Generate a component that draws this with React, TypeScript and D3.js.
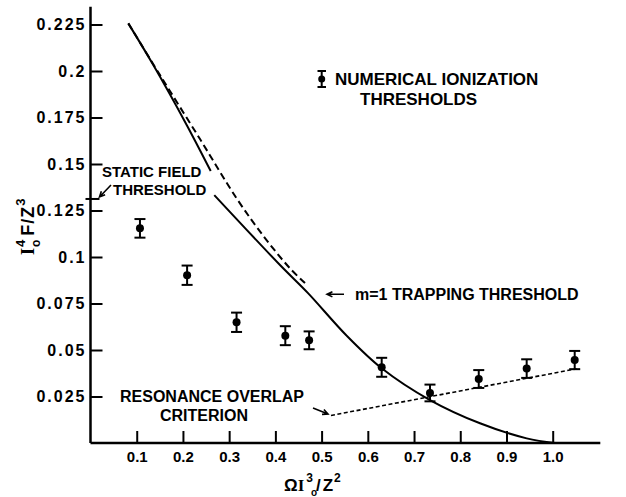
import React, { useEffect, useRef } from 'react';
import * as d3 from 'd3';

// tick values and labels
const xTicks = [0.1, 0.2, 0.3, 0.4, 0.5, 0.6, 0.7, 0.8, 0.9, 1.0];
const xTickLabels = ['0.1', '0.2', '0.3', '0.4', '0.5', '0.6', '0.7', '0.8', '0.9', '1.0'];
const yTicks = [0.025, 0.05, 0.075, 0.1, 0.125, 0.15, 0.175, 0.2, 0.225];
const yTickLabels = ['0.025', '0.05', '0.075', '0.1', '0.125', '0.15', '0.175', '0.2', '0.225'];

// numerical ionization thresholds (with error bars)
const numX = [0.107, 0.209, 0.316, 0.4215, 0.473, 0.63, 0.7345, 0.84, 0.9437, 1.0476];
const numY = [0.1154, 0.0902, 0.0649, 0.0577, 0.0552, 0.0407, 0.0269, 0.0344, 0.04, 0.0446];
const numErr = [0.005, 0.0052, 0.0052, 0.0051, 0.0048, 0.0051, 0.0045, 0.0048, 0.005, 0.0049];

// m=1 trapping threshold, drawn in two solid pieces
const trapUpperX = [0.0818, 0.1359, 0.2081, 0.2601];
const trapUpperY = [0.2256, 0.2032, 0.171, 0.1462];
const trapLowerX = [0.2678, 0.41, 0.4706, 0.5528, 0.63, 0.7345, 0.8427, 0.9437, 1.005];
const trapLowerY = [0.1333, 0.0957, 0.0806, 0.0581, 0.0402, 0.0231, 0.0106, 0.0025, 0];

// dashed curve
const dashX = [0.0818, 0.1504, 0.2369, 0.317, 0.3775, 0.4316, 0.4641];
const dashY = [0.2256, 0.1978, 0.1634, 0.1312, 0.1102, 0.0939, 0.086];

// resonance overlap criterion (dotted)
const resX = [0.5203, 1.0519];
const resY = [0.0148, 0.0399];

const staticField = 0.1312;

const W = 626;
const H = 497;
const font = "'Liberation Sans', Arial, sans-serif";

const x = d3.scaleLinear().domain([0, 1]).range([90.5, 552.7]);
const y = d3.scaleLinear().domain([0, 0.225]).range([443, 24.5]);

const zip = (xs: number[], ys: number[]) => xs.map((v, i) => [v, ys[i]] as [number, number]);

const line = d3.line<[number, number]>()
  .x(d => x(d[0]))
  .y(d => y(d[1]))
  .curve(d3.curveCatmullRom);

function arrowHead(x1: number, y1: number, x2: number, y2: number, size = 6) {
  const a = Math.atan2(y2 - y1, x2 - x1);
  const s = Math.PI / 7;
  const p1 = [x2 - size * Math.cos(a - s), y2 - size * Math.sin(a - s)];
  const p2 = [x2 - size * Math.cos(a + s), y2 - size * Math.sin(a + s)];
  return `M${x1},${y1}L${x2},${y2}M${p1[0]},${p1[1]}L${x2},${y2}L${p2[0]},${p2[1]}`;
}

export default function App() {
  const xAxisRef = useRef<SVGGElement>(null);
  const yAxisRef = useRef<SVGGElement>(null);

  useEffect(() => {
    const xAxis = d3.axisBottom(x)
      .tickValues(xTicks)
      .tickFormat((d, i) => xTickLabels[i])
      .tickSizeInner(-12)
      .tickSizeOuter(0)
      .tickPadding(8);
    const xg = d3.select(xAxisRef.current!).call(xAxis);
    xg.select('.domain').remove();
    xg.selectAll('line').attr('stroke', '#000').attr('stroke-width', 2);
    xg.selectAll('text')
      .attr('fill', '#000')
      .style('font-size', '15px')
      .style('font-weight', 'bold')
      .style('font-family', font);

    const yAxis = d3.axisLeft(y)
      .tickValues(yTicks)
      .tickFormat((d, i) => yTickLabels[i])
      .tickSizeInner(-12)
      .tickSizeOuter(0)
      .tickPadding(4);
    const yg = d3.select(yAxisRef.current!).call(yAxis);
    yg.select('.domain').remove();
    yg.selectAll('line').attr('stroke', '#000').attr('stroke-width', 2);
    yg.selectAll('text')
      .attr('fill', '#000')
      .style('font-size', '16px')
      .style('font-weight', 'bold')
      .style('letter-spacing', '2px')
      .style('font-family', font);
  }, []);

  const pts = zip(numX, numY);
  const x0 = x(0);
  const y0 = y(0);

  return (
    <svg width={W} height={H} style={{ position: 'absolute', left: 0, top: 0, background: '#fff' }}>
      <rect width={W} height={H} fill="#fff" />

      {/* axes */}
      <g ref={xAxisRef} transform={`translate(0,${y0})`} />
      <g ref={yAxisRef} transform={`translate(${x0},0)`} />
      <line x1={x0} y1={y0} x2={x(1.103)} y2={y0} stroke="#000" strokeWidth={2.5} />
      <line x1={x0} y1={y0} x2={x0} y2={y(0.2345)} stroke="#000" strokeWidth={2.5} />
      <line x1={x0 - 5} y1={y(staticField)} x2={x0 + 9} y2={y(staticField)} stroke="#000" strokeWidth={2} />

      {/* curves */}
      <path d={line(zip(dashX, dashY)) || ''} fill="none" stroke="#000" strokeWidth={2} strokeDasharray="7,4" />
      <path d={line(zip(trapUpperX, trapUpperY)) || ''} fill="none" stroke="#000" strokeWidth={2} />
      <path d={line(zip(trapLowerX, trapLowerY)) || ''} fill="none" stroke="#000" strokeWidth={2} />
      <path d={line(zip(resX, resY)) || ''} fill="none" stroke="#000" strokeWidth={1.6} strokeDasharray="4,2.5" />

      {/* numerical thresholds */}
      {pts.map((p, i) => {
        const cx = x(p[0]);
        const top = y(p[1] + numErr[i]);
        const bot = y(p[1] - numErr[i]);
        return (
          <g key={i} stroke="#000" strokeWidth={2}>
            <line x1={cx} x2={cx} y1={top} y2={bot} />
            <line x1={cx - 5.5} x2={cx + 5.5} y1={top} y2={top} />
            <line x1={cx - 5.5} x2={cx + 5.5} y1={bot} y2={bot} />
            <circle cx={cx} cy={y(p[1])} r={4} fill="#000" stroke="none" />
          </g>
        );
      })}

      {/* legend */}
      <g stroke="#000" strokeWidth={2}>
        <line x1={321.7} x2={321.7} y1={71} y2={87} />
        <line x1={317.5} x2={326} y1={71} y2={71} />
        <line x1={317.5} x2={326} y1={87} y2={87} />
        <circle cx={321.7} cy={79} r={3.5} fill="#000" stroke="none" />
      </g>
      <g fontFamily={font} fontWeight="bold" fill="#000">
        <text x={335} y={85} fontSize={17}>NUMERICAL IONIZATION</text>
        <text x={360} y={105} fontSize={17}>THRESHOLDS</text>

        <text x={355} y={300} fontSize={16}>m=1 TRAPPING THRESHOLD</text>

        <text x={102} y={177} fontSize={15}>STATIC FIELD</text>
        <text x={113} y={195} fontSize={15}>THRESHOLD</text>

        <text x={120} y={402} fontSize={16}>RESONANCE OVERLAP</text>
        <text x={160} y={421} fontSize={16}>CRITERION</text>
      </g>

      {/* annotation arrows */}
      <path d={arrowHead(344, 294.3, 327, 294.3)} fill="none" stroke="#000" strokeWidth={1.6} />
      <path d={arrowHead(313, 408, x(resX[0]) - 3, y(resY[0]) - 1.5)} fill="none" stroke="#000" strokeWidth={1.6} />
      <path d={arrowHead(111, 185, x0 + 9, y(staticField) - 2)} fill="none" stroke="#000" strokeWidth={1.6} />

      {/* axis titles */}
      <g fontFamily={font} fontWeight="bold" fill="#000">
        <text x={284} y={491} fontSize={17}>
          Ω<tspan fontFamily="'Liberation Serif', serif">I</tspan>
          <tspan dx={2} dy={-9} fontSize={12}>3</tspan>
          <tspan dx={3} dy={9}>/</tspan>
          <tspan dx={2}>Z</tspan>
          <tspan dx={1} dy={-9} fontSize={12}>2</tspan>
        </text>
        <text x={311} y={496} fontSize={10}>o</text>

        <g transform="translate(34,255) rotate(-90)">
          <text x={0} y={0} fontSize={18}>
            <tspan fontFamily="'Liberation Serif', serif">I</tspan>
            <tspan dx={1} dy={-9} fontSize={13}>4</tspan>
            <tspan dx={4} dy={9}>F</tspan>
            <tspan dx={1}>/</tspan>
            <tspan dx={1}>Z</tspan>
            <tspan dx={1} dy={-9} fontSize={13}>3</tspan>
          </text>
          <text x={8} y={6} fontSize={12}>o</text>
        </g>
      </g>
    </svg>
  );
}
